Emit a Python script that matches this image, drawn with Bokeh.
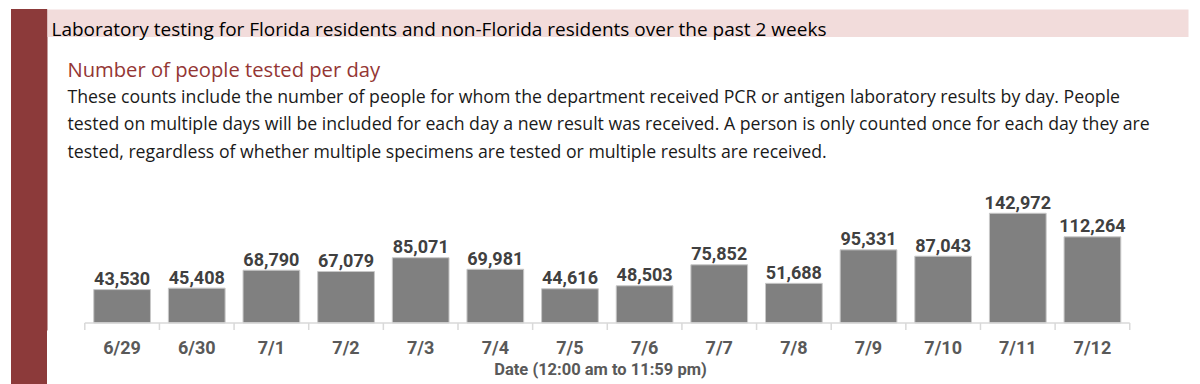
from bokeh.plotting import figure
from bokeh.models import ColumnDataSource, Range1d, Label, BoxAnnotation, FixedTicker
from bokeh.core.properties import value
from bokeh.embed import file_html
from bokeh.resources import INLINE

days = ["6/29", "6/30", "7/1", "7/2", "7/3", "7/4", "7/5",
        "7/6", "7/7", "7/8", "7/9", "7/10", "7/11", "7/12"]
tested = [43530, 45408, 68790, 67079, 85071, 69981, 44616,
          48503, 75852, 51688, 95331, 87043, 142972, 112264]
value_labels = [f"{v:,}" for v in tested]

header = "Laboratory testing for Florida residents and non-Florida residents over the past 2 weeks"
subtitle = "Number of people tested per day"
paragraph = [
    "These counts include the number of people for whom the department received PCR or antigen laboratory results by day. People",
    "tested on multiple days will be included for each day a new result was received. A person is only counted once for each day they are",
    "tested, regardless of whether multiple specimens are tested or multiple results are received.",
]
x_title = "Date (12:00 am to 11:59 pm)"

DARK_RED = "#8C3A3A"
SUB_RED = "#943634"
PINK = "#F2DCDB"
BAR = "#808080"
AXIS_GRAY = "#D9D9D9"

# ---- layout helpers: canvas pixel -> data coordinates
W, H = 1200, 384
CAT_W = 74.64       # pixels per category
CAT0 = 84.3         # x of the left edge of the first category
K = 1303.0          # people per pixel
BASE = 322.5        # y of zero
FRAME_BOTTOM = 330  # y of the frame bottom


def px(X):
    return -0.5 + (X - CAT0) / CAT_W


def py(Y):
    return (BASE - Y) * K


idx = list(range(len(days)))
src = ColumnDataSource(dict(x=idx, day=days, tested=tested, label=value_labels))
bounds = [i - 0.5 for i in range(len(days) + 1)]
bsrc = ColumnDataSource(dict(x=bounds))

p = figure(width=W, height=H, x_range=Range1d(px(0), px(W)),
           y_range=Range1d(py(FRAME_BOTTOM), py(0)),
           output_backend="svg", toolbar_location=None, y_axis_location=None,
           min_border_left=0, min_border_right=0, min_border_top=0,
           min_border_bottom=H - FRAME_BOTTOM,
           styles={"background": f"linear-gradient({DARK_RED}, {DARK_RED}) 11px 9px / 36px 100% no-repeat"})
p.outline_line_color = None
p.xgrid.grid_line_color = None
p.ygrid.grid_line_color = None
p.border_fill_color = None
p.background_fill_color = None

# header decorations
p.add_layout(BoxAnnotation(left=px(11), right=px(47), top=py(9), bottom=py(420),
                           fill_color=DARK_RED, fill_alpha=1, line_color=None, level="underlay"))
p.add_layout(BoxAnnotation(left=px(47), right=px(1188), top=py(9), bottom=py(36.5),
                           fill_color=PINK, fill_alpha=1, line_color=None, level="underlay"))

# bars and value labels
p.vbar(x="x", top="tested", bottom=0, width=0.76, source=src,
       fill_color=BAR, line_color="#C8C8C8", line_width=1)
p.text(x="x", y="tested", text="label", source=src, text_align="center",
       text_baseline="alphabetic", y_offset=-11, text_font=value("Roboto"),
       text_font_style="bold", text_font_size="18px", text_color="#404040")

# category axis line and boundary ticks
tick_len = 7 * K
p.segment(x0="x", x1="x", y0=0, y1=-tick_len, source=bsrc, line_color=AXIS_GRAY, line_width=1.5)
p.segment(x0=bounds[0], x1=bounds[-1], y0=0, y1=0, line_color=AXIS_GRAY, line_width=1.5)

ax = p.xaxis[0]
ax.ticker = FixedTicker(ticks=idx)
ax.major_label_overrides = {i: d for i, d in zip(idx, days)}
ax.axis_line_color = None
ax.major_tick_line_color = None
ax.minor_tick_line_color = None
ax.major_tick_out = 0
ax.major_tick_in = 0
ax.major_label_standoff = 6
ax.major_label_text_font = "Roboto"
ax.major_label_text_font_style = "bold"
ax.major_label_text_font_size = "18px"
ax.major_label_text_color = "#595959"
ax.axis_label = x_title
ax.axis_label_standoff = -1
ax.axis_label_text_font = "Roboto"
ax.axis_label_text_font_style = "bold"
ax.axis_label_text_font_size = "16.5px"
ax.axis_label_text_color = "#595959"

# texts
p.add_layout(Label(x=px(51), y=py(28.5), text=header,
                   text_font="Open Sans", text_font_size="19px", text_color="#000000",
                   text_baseline="alphabetic"))
p.add_layout(Label(x=px(67), y=py(68), text=subtitle,
                   text_font="Open Sans", text_font_size="20.2px", text_color=SUB_RED,
                   text_baseline="alphabetic"))
for i, line in enumerate(paragraph):
    p.add_layout(Label(x=px(67), y=py(95 + 27.5 * i), text=line,
                       text_font="Open Sans", text_font_size="17.7px",
                       text_color="#1A1A1A", text_baseline="alphabetic"))

open("out.html", "w").write(file_html(p, INLINE))
